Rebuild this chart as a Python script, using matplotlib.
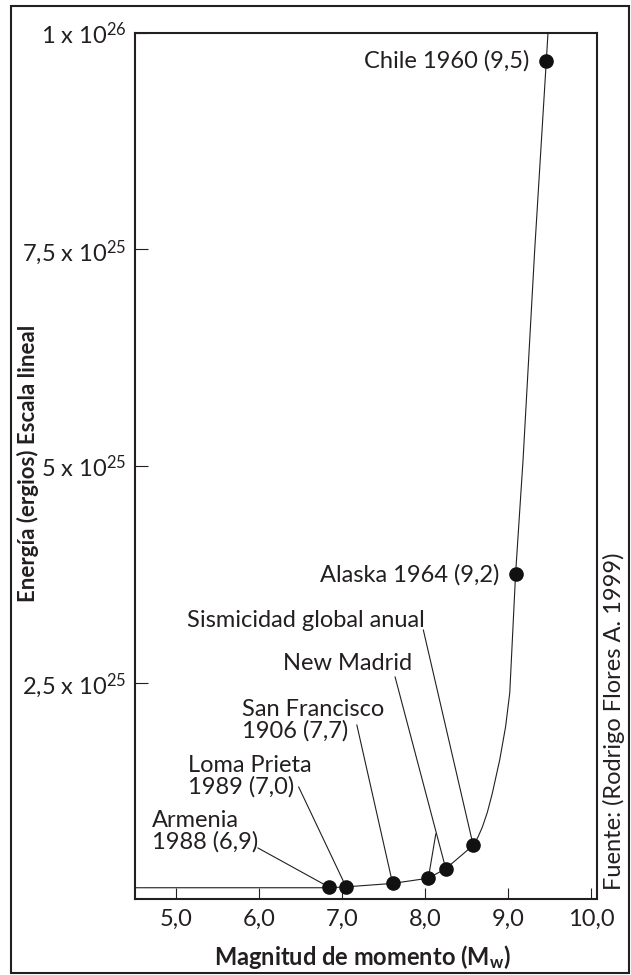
import matplotlib.pyplot as plt
from matplotlib.patches import Rectangle

plt.rcParams['font.family'] = ['Lato', 'DejaVu Sans']
plt.rcParams['mathtext.fontset'] = 'custom'
plt.rcParams['mathtext.rm'] = 'Lato'
plt.rcParams['mathtext.bf'] = 'Lato:bold'

INK = '#231f20'

# earthquakes as drawn: moment magnitude and energy (units of 1e25 ergs)
magnitudes = [6.84, 7.05, 7.61, 8.04, 8.25, 8.58, 9.09, 9.46]
energy = [0.14, 0.14, 0.18, 0.24, 0.35, 0.62, 3.75, 9.68]

# hand drawn energy curve
curve_m = [4.5, 6.84, 7.05, 7.61, 8.04, 8.25, 8.58, 8.64, 8.69, 8.75, 8.81,
           8.90, 8.97, 9.02, 9.09, 9.18, 9.32, 9.46, 9.48]
curve_e = [0.13, 0.13, 0.14, 0.18, 0.24, 0.35, 0.62, 0.72, 0.83, 1.0, 1.22,
           1.61, 1.99, 2.38, 3.75, 5.07, 7.49, 9.68, 10.0]

xticks = [5, 6, 7, 8, 9, 10]
xtick_labels = ['5,0', '6,0', '7,0', '8,0', '9,0', '10,0']
yticks = [2.5, 5, 7.5, 10]
ytick_labels = [r'2,5 x $\mathregular{10^{25}}$', r'5 x $\mathregular{10^{25}}$',
                r'7,5 x $\mathregular{10^{25}}$', r'1 x $\mathregular{10^{26}}$']

# label text, x, y, alignment
labels = [
    ('Chile 1960 (9,5)', 9.26, 9.68, 'right'),
    ('Alaska 1964 (9,2)', 8.90, 3.74, 'right'),
    ('Sismicidad global anual', 5.14, 3.22, 'left'),
    ('New Madrid', 6.29, 2.725, 'left'),
    ('San Francisco\n1906 (7,7)', 5.80, 2.067, 'left'),
    ('Loma Prieta\n1989 (7,0)', 5.15, 1.415, 'left'),
    ('Armenia\n1988 (6,9)', 4.71, 0.779, 'left'),
]
# leader lines: event index, start of the line near the label
leaders = [(0, 5.99, 0.589), (1, 6.48, 1.293), (2, 7.18, 2.009),
           (4, 7.64, 2.564), (5, 7.98, 3.106), (3, 8.13, 0.751)]

W, H = 631, 975
fig = plt.figure(figsize=(W / 100, H / 100), dpi=100)
ax = fig.add_axes([135 / W, (H - 899) / H, (597 - 135) / W, (899 - 33) / H])

ax.plot(curve_m, curve_e, color=INK, lw=0.8, clip_on=True)
for i, sx, sy in leaders:
    ax.plot([sx, magnitudes[i]], [sy, energy[i]], color=INK, lw=0.8)
ax.plot(magnitudes, energy, 'o', color='#111111', ms=9.5, zorder=5)

for txt, x, y, ha in labels:
    ax.text(x, y, txt, ha=ha, va='center', fontsize=17, color=INK,
            linespacing=0.98)

ax.set_xlim(4.51, 10.07)
ax.set_ylim(0, 10)
ax.set_xticks(xticks, xtick_labels)
ax.set_yticks(yticks, ytick_labels)
ax.tick_params(axis='x', direction='in', length=8, width=0.8, pad=7,
               labelsize=17, colors=INK)
ax.tick_params(axis='y', direction='in', length=9.5, width=0.8, pad=6,
               labelsize=17, colors=INK)
for s in ax.spines.values():
    s.set_linewidth(1.5)
    s.set_color(INK)

fig.text(28 / W, 1 - 463 / H, 'Energía (ergios) Escala lineal', rotation=90,
         ha='center', va='center', fontsize=16, fontweight='bold', color=INK)
fig.text(362 / W, 1 - 957 / H, r'Magnitud de momento (M$\mathbf{_w}$)',
         ha='center', va='center', fontsize=17, fontweight='bold', color=INK)
fig.text(614 / W, 1 - 721 / H, 'Fuente: (Rodrigo Flores A. 1999)', rotation=90,
         ha='center', va='center', fontsize=17, color=INK)

fig.patches.append(Rectangle((11 / W, 2 / H), (629 - 11) / W, 967 / H,
                             transform=fig.transFigure, fill=False,
                             lw=1.5, ec=INK))

fig.savefig('out.png', dpi=100)
